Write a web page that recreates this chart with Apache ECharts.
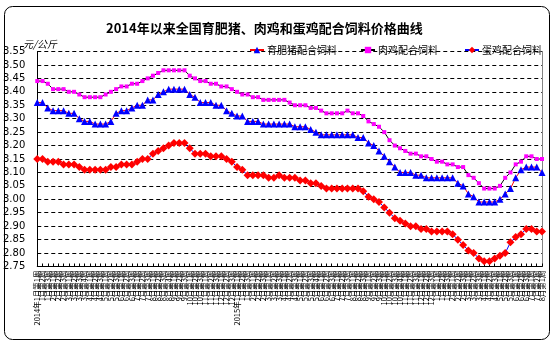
<!DOCTYPE html>
<html>
<head>
<meta charset="utf-8">
<script src="https://cdn.jsdelivr.net/npm/echarts@6/dist/echarts.min.js"></script>
<style>
  html, body { margin: 0; padding: 0; background: #fff; }
  #chart { width: 551px; height: 341px; }
</style>
</head>
<body>
<div id="chart"></div>
<script>
// Reporting weeks counted in each month
const weeksPerMonth2014 = [3, 3, 4, 3, 3, 3, 3, 4, 3, 3, 3, 3];
const weeksPerMonth2015 = [3, 3, 3, 3, 4, 3, 3, 3, 3, 4, 3, 3];
const weeksPerMonth2016 = [3, 3, 3, 3, 3, 3, 2, 1];
const yearsWithPrefix = [2014, 2015];

// Prices, yuan per kg
const hogFeed = [
  3.36,3.36,3.34,3.33,3.33,3.33,3.32,3.32,3.30,3.29,3.29,3.28,
  3.28,3.28,3.29,3.32,3.33,3.33,3.34,3.35,3.35,3.37,3.37,3.39,
  3.40,3.41,3.41,3.41,3.41,3.39,3.38,3.36,3.36,3.36,3.35,3.35,
  3.33,3.32,3.31,3.31,3.29,3.29,3.29,3.28,3.28,3.28,3.28,3.28,
  3.28,3.27,3.27,3.27,3.26,3.25,3.24,3.24,3.24,3.24,3.24,3.24,
  3.24,3.23,3.23,3.21,3.20,3.18,3.16,3.14,3.12,3.10,3.10,3.10,
  3.09,3.09,3.08,3.08,3.08,3.08,3.08,3.08,3.06,3.05,3.02,3.01,
  2.99,2.99,2.99,2.99,3.00,3.02,3.04,3.08,3.11,3.12,3.12,3.12,
  3.10
];
const broilerFeed = [
  3.44,3.44,3.43,3.41,3.41,3.41,3.40,3.40,3.39,3.38,3.38,3.38,
  3.38,3.39,3.40,3.41,3.42,3.42,3.43,3.43,3.44,3.45,3.46,3.47,
  3.48,3.48,3.48,3.48,3.48,3.46,3.45,3.44,3.44,3.43,3.43,3.42,
  3.42,3.41,3.40,3.39,3.39,3.38,3.38,3.37,3.37,3.37,3.37,3.37,
  3.36,3.35,3.35,3.35,3.34,3.34,3.33,3.32,3.32,3.32,3.32,3.33,
  3.32,3.32,3.31,3.29,3.28,3.27,3.25,3.22,3.20,3.19,3.18,3.17,
  3.17,3.16,3.16,3.15,3.14,3.14,3.13,3.13,3.12,3.12,3.09,3.08,
  3.06,3.04,3.04,3.04,3.05,3.08,3.10,3.13,3.14,3.16,3.16,3.15,
  3.15
];
const layerFeed = [
  3.15,3.15,3.14,3.14,3.14,3.13,3.13,3.13,3.12,3.11,3.11,3.11,
  3.11,3.11,3.12,3.12,3.13,3.13,3.13,3.14,3.15,3.15,3.17,3.18,
  3.19,3.20,3.21,3.21,3.21,3.19,3.17,3.17,3.17,3.16,3.16,3.16,
  3.15,3.14,3.12,3.11,3.09,3.09,3.09,3.09,3.08,3.08,3.09,3.08,
  3.08,3.08,3.07,3.07,3.06,3.06,3.05,3.04,3.04,3.04,3.04,3.04,
  3.04,3.04,3.03,3.01,3.00,2.99,2.97,2.95,2.93,2.92,2.91,2.90,
  2.90,2.89,2.89,2.88,2.88,2.88,2.88,2.87,2.85,2.83,2.81,2.80,
  2.78,2.77,2.77,2.78,2.79,2.80,2.84,2.86,2.87,2.89,2.89,2.88,
  2.88
];

// Week labels such as "2014年1月第1周", "1月第2周"
function buildWeekLabels(year, weeks) {
  const out = [];
  weeks.forEach(function (count, m) {
    for (let w = 1; w <= count; w++) {
      const prefix = (m === 0 && w === 1 && yearsWithPrefix.indexOf(year) >= 0) ? year + '年' : '';
      out.push(prefix + (m + 1) + '月第' + w + '周');
    }
  });
  return out;
}
const weekLabels = [].concat(
  buildWeekLabels(2014, weeksPerMonth2014),
  buildWeekLabels(2015, weeksPerMonth2015),
  buildWeekLabels(2016, weeksPerMonth2016)
);

const cjk = '"Noto Sans CJK SC", "Noto Sans", sans-serif';
const chart = echarts.init(document.getElementById('chart'), null, { renderer: 'canvas' });

function legendFor(name, left) {
  return {
    data: [name], left: left, top: 40,
    itemWidth: 14, itemHeight: 8, itemGap: 5,
    textStyle: { fontSize: 10, color: '#000', fontFamily: cjk, padding: [0, 0, 0, -2] }
  };
}

chart.setOption({
  animation: false,
  backgroundColor: '#fff',
  title: {
    text: '2014年以来全国育肥猪、肉鸡和蛋鸡配合饲料价格曲线',
    left: 101, top: 17,
    textStyle: { fontSize: 13, fontWeight: 'bold', color: '#000', fontFamily: cjk }
  },
  legend: [
    legendFor('育肥猪配合饲料', 244),
    legendFor('肉鸡配合饲料', 355),
    legendFor('蛋鸡配合饲料', 459)
  ],
  graphic: [
    {
      type: 'rect', left: 2, top: 4, silent: true,
      shape: { width: 545, height: 333, r: 8 },
      style: { fill: null, stroke: '#000', lineWidth: 1 }
    },
    {
      type: 'text', left: 23, top: 39, silent: true,
      style: { text: '元/公斤', fontSize: 10, fontStyle: 'italic', fill: '#000', fontFamily: cjk }
    }
  ],
  grid: { left: 34, right: 9, top: 51.5, bottom: 74.5 },
  xAxis: {
    type: 'category',
    data: weekLabels,
    boundaryGap: false,
    axisLine: { lineStyle: { color: '#000', width: 1 } },
    axisTick: { inside: true, length: 3, interval: 0, lineStyle: { color: '#000' } },
    axisLabel: { interval: 0, rotate: 90, fontSize: 7.5, color: '#000', margin: 4, fontFamily: cjk }
  },
  yAxis: [
    {
      type: 'value', min: 2.75, max: 3.55, interval: 0.05,
      axisLine: { show: true, lineStyle: { color: '#000', width: 1 } },
      axisTick: { show: false },
      splitLine: { lineStyle: { color: '#000', type: [4, 3], width: 1 } },
      axisLabel: {
        formatter: function (v) { return v.toFixed(2); },
        fontSize: 10, color: '#000', margin: 12, fontFamily: '"DejaVu Sans", sans-serif'
      }
    },
    {
      type: 'value', position: 'right', min: 2.75, max: 3.55, interval: 0.05,
      axisLine: { show: true, lineStyle: { color: '#777', type: 'dotted', width: 1 } },
      axisTick: { show: false }, axisLabel: { show: false }, splitLine: { show: false }
    }
  ],
  series: [
    {
      name: '育肥猪配合饲料', type: 'line', data: hogFeed,
      symbol: 'triangle', symbolSize: 7, showAllSymbol: true,
      itemStyle: { color: '#0000FF' },
      lineStyle: { color: '#FF0000', width: 1 }
    },
    {
      name: '肉鸡配合饲料', type: 'line', data: broilerFeed,
      symbol: 'rect', symbolSize: 4, showAllSymbol: true,
      itemStyle: { color: '#FF00FF' },
      lineStyle: { color: '#000000', width: 1 }
    },
    {
      name: '蛋鸡配合饲料', type: 'line', data: layerFeed,
      symbol: 'diamond', symbolSize: 8, showAllSymbol: true,
      itemStyle: { color: '#FF0000' },
      lineStyle: { color: '#0000FF', width: 1 }
    }
  ]
});
</script>
</body>
</html>
